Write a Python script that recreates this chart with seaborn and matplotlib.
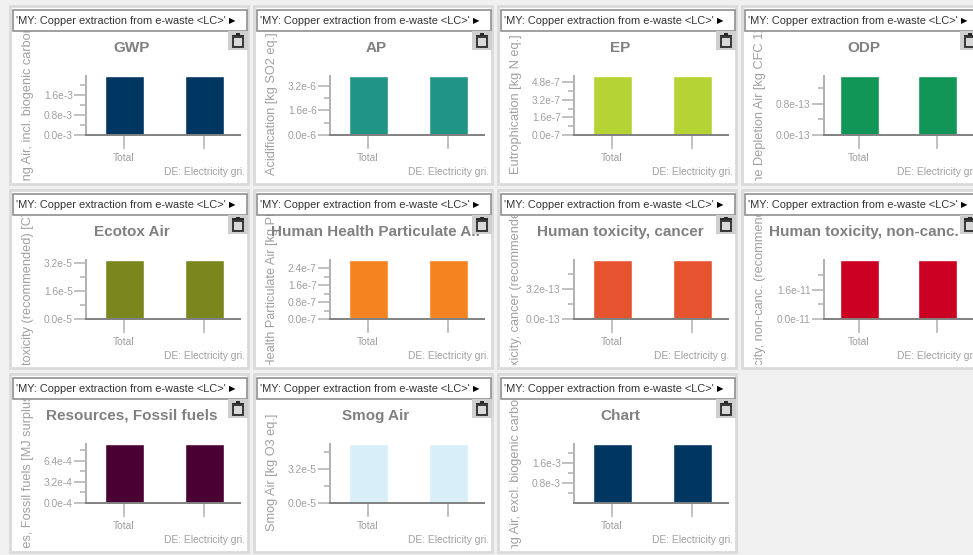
import pandas as pd
import seaborn as sns
import matplotlib.pyplot as plt
from matplotlib.patches import Rectangle
from matplotlib.transforms import Bbox, TransformedBbox

# impact categories
TITLES = ["GWP", "AP", "EP", "ODP",
          "Ecotox Air", "Human Health Particulate Air", "Human toxicity, cancer", "Human toxicity, non-canc.",
          "Resources, Fossil fuels", "Smog Air", "Chart"]
YLABELS = ["Global Warming Air, incl. biogenic carbon [kg CO2 eq.]",
           "Acidification [kg SO2 eq.]",
           "Eutrophication [kg N eq.]",
           "Ozone Depletion Air [kg CFC 11 eq.]",
           "Ecotoxicity (recommended) [CTUe]",
           "Human Health Particulate Air [kg PM2.5 eq.]",
           "Human toxicity, cancer (recommended) [CTUh]",
           "Human toxicity, non-canc. (recommended) [CTUh]",
           "Resources, Fossil fuels [MJ surplus energy]",
           "Smog Air [kg O3 eq.]",
           "Global Warming Air, excl. biogenic carbon [kg CO2 eq.]"]
VALUES = [2.36e-3, 3.85e-6, 5.35e-7, 1.52e-13,
          3.37e-5, 2.78e-7, 6.3e-13, 3.25e-11,
          8.9e-4, 5.6e-5, 2.38e-3]
COLORS = ["#003662", "#219585", "#b5d334", "#129657",
          "#7a871e", "#f58420", "#e6532f", "#cc0022",
          "#4a0032", "#d8eef9", "#003662"]
MAJOR_TICKS = [[0.0, 0.8e-3, 1.6e-3], [0.0, 1.6e-6, 3.2e-6], [0.0, 1.6e-7, 3.2e-7, 4.8e-7], [0.0, 0.8e-13],
               [0.0, 1.6e-5, 3.2e-5], [0.0, 0.8e-7, 1.6e-7, 2.4e-7], [0.0, 3.2e-13], [0.0, 1.6e-11],
               [0.0, 3.2e-4, 6.4e-4], [0.0, 3.2e-5], [0.0, 0.8e-3, 1.6e-3]]
MAJOR_LABELS = [["0.0e-3", "0.8e-3", "1.6e-3"], ["0.0e-6", "1.6e-6", "3.2e-6"], ["0.0e-7", "1.6e-7", "3.2e-7", "4.8e-7"], ["0.0e-13", "0.8e-13"],
                ["0.0e-5", "1.6e-5", "3.2e-5"], ["0.0e-7", "0.8e-7", "1.6e-7", "2.4e-7"], ["0.0e-13", "3.2e-13"], ["0.0e-11", "1.6e-11"],
                ["0.0e-4", "3.2e-4", "6.4e-4"], ["0.0e-5", "3.2e-5"], ["", "0.8e-3", "1.6e-3"]]
MINOR_TICKS = [[0.4e-3, 1.2e-3, 2.0e-3], [0.8e-6, 2.4e-6], [0.8e-7, 2.4e-7, 4.0e-7], [0.4e-13, 1.2e-13],
               [0.8e-5, 2.4e-5], [0.4e-7, 1.2e-7, 2.0e-7], [1.6e-13, 4.8e-13], [0.8e-11, 2.4e-11],
               [1.6e-4, 4.8e-4, 8.0e-4], [1.6e-5, 4.8e-5], [0.4e-3, 1.2e-3, 2.0e-3]]
SCENARIOS = ["Total", "DE: Electricity gri."]
SCENARIOS_SHORT = ["Total", "DE: Electricity g."]
HEADER = "'MY: Copper extraction from e-waste <LC>'"

sns.set_theme(style="white")
plt.rcParams["font.family"] = ["Liberation Sans", "DejaVu Sans"]

W, H = 973, 555
fig = plt.figure(figsize=(W / 100, H / 100), dpi=100, facecolor="#f0f0f0")


def px_box(x0, y0, x1, y1):
    # pixel box (y from the top) to figure coords
    return [x0 / W, 1 - y1 / H, (x1 - x0) / W, (y1 - y0) / H]


def add_rect(x0, y0, x1, y1, **kw):
    l, b, w, h = px_box(x0, y0, x1, y1)
    fig.add_artist(Rectangle((l, b), w, h, transform=fig.transFigure, **kw))


COL_LEFT = [10, 254, 498, 742]
AXIS_LEFT = [86, 330, 574, 824]
ROW_STEP = 184

for i, title in enumerate(TITLES):
    row, col = i // 4, i % 4
    dy = row * ROW_STEP
    left = COL_LEFT[col]
    spacing = 78 if col == 3 else 80
    offset = 35 if col == 3 else 38
    x0 = AXIS_LEFT[col]

    # panel background
    add_rect(left, 6 + dy, left + 238, 184 + dy, facecolor="white", edgecolor="#dadada", lw=2, zorder=-1)

    ax = fig.add_axes(px_box(x0, 76 + dy, x0 + 154, 135 + dy))
    ax.patch.set_alpha(0)
    names = SCENARIOS_SHORT if title == "Human toxicity, cancer" else SCENARIOS
    df = pd.DataFrame({"scenario": names, "value": [VALUES[i], VALUES[i]]})
    sns.barplot(data=df, x="scenario", y="value", color=COLORS[i], saturation=1, width=39 / spacing, ax=ax)
    ax.set_xlim(-offset / spacing, (154 - offset) / spacing)
    ax.set_ylim(0, VALUES[i])
    ax.set_xlabel("")

    sns.despine(ax=ax)
    ax.spines["left"].set_color("#b0b0b0")
    ax.spines["left"].set_linewidth(1.4)
    ax.spines["bottom"].set_color("#808080")
    ax.spines["bottom"].set_linewidth(1.4)

    ax.set_yticks(MAJOR_TICKS[i], MAJOR_LABELS[i])
    ax.set_yticks(MINOR_TICKS[i], minor=True)
    ax.tick_params(axis="y", which="major", length=8.6, width=1.1, color="#b0b0b0", labelcolor="#a0a0a0", labelsize=7.4, pad=1, left=True)
    ax.tick_params(axis="y", which="minor", length=4.3, width=1.1, color="#b0b0b0", left=True)
    ax.tick_params(axis="x", length=10, width=1.1, color="#b0b0b0", labelcolor="#a0a0a0", labelsize=7.4, bottom=True)
    if title == "Chart":
        ax.yaxis.get_major_ticks()[0].tick1line.set_visible(False)

    ticks = ax.xaxis.get_major_ticks()
    ticks[0].set_pad(3)
    ticks[1].set_pad(13)

    # long labels and titles run out of the panel, the app just cuts them
    clip = TransformedBbox(Bbox.from_extents(left / W, 1 - (181 + dy) / H, (left + 238) / W, 1 - (31 + dy) / H), fig.transFigure)
    ylab = ax.set_ylabel(YLABELS[i], fontsize=9.2, color="#a0a0a0")
    ax.yaxis.set_label_coords((left + 18 - x0) / 154, (135 - 104) / 59)
    ylab.set_verticalalignment("center")
    ylab.set_clip_box(clip)
    ylab.set_clip_on(True)

    t = ax.set_title(title, x=(left + 122 - x0) / 154, y=(135 - 52) / 59, pad=0, fontsize=11, fontweight="bold", color="#808080")
    t.set_clip_box(clip)
    t.set_clip_on(True)

    # header box with the scenario name
    add_rect(left + 3, 10 + dy, left + 237, 31 + dy, facecolor="white", edgecolor="#909090", lw=1.2, zorder=5)
    fig.text((left + 6) / W, 1 - (21 + dy) / H, HEADER, fontsize=7.9, color="#333333", va="center", zorder=6)
    fig.text((left + 219) / W, 1 - (21 + dy) / H, "\u25b6", fontsize=6, color="black", va="center", family="DejaVu Sans", zorder=6)

    # delete button
    bx = left + 218
    by = 31 + dy
    add_rect(bx, by, bx + 20, by + 19, facecolor="#cfcfcf", edgecolor="none", zorder=5)
    add_rect(bx + 5, by + 6, bx + 15, by + 16, facecolor="#d8d8d8", edgecolor="#2a2a2a", lw=1.3, zorder=6)
    add_rect(bx + 4, by + 3.5, bx + 16, by + 5, facecolor="#2a2a2a", edgecolor="none", zorder=6)
    add_rect(bx + 8, by + 2, bx + 12, by + 3.5, facecolor="#2a2a2a", edgecolor="none", zorder=6)

fig.savefig("out.png", dpi=100, facecolor=fig.get_facecolor())
